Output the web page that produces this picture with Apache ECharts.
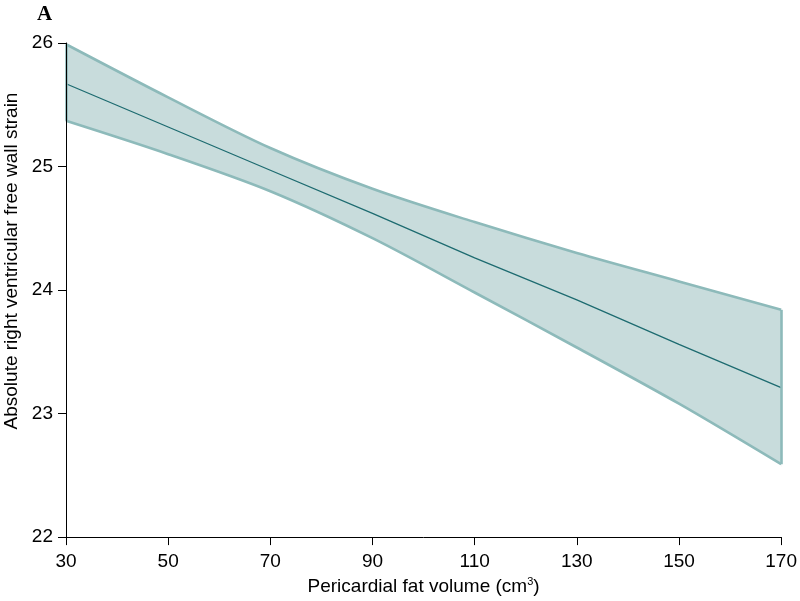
<!DOCTYPE html>
<html>
<head>
<meta charset="utf-8">
<script src="https://cdn.jsdelivr.net/npm/echarts@6/dist/echarts.min.js"></script>
<style>html,body{margin:0;padding:0;background:#fff}#c{width:800px;height:601px}</style>
</head>
<body>
<div id="c"></div>
<script>
const volumes = [30, 50, 70, 90, 110, 130, 150, 170];
const fitted  = [25.67, 25.32, 24.97, 24.62, 24.26, 23.92, 23.56, 23.21];
const upperCI = [25.99, 25.56, 25.15, 24.82, 24.55, 24.30, 24.07, 23.84];
const lowerCI = [25.37, 25.10, 24.80, 24.42, 23.98, 23.535, 23.08, 22.59];
const xTicks = [30, 50, 70, 90, 110, 130, 150, 170];
const yTicks = [22, 23, 24, 25, 26];

const fillColor = '#c8dcdc';
const edgeColor = '#8dbaba';
const lineColor = '#1d6b70';

const chart = echarts.init(document.getElementById('c'), null, {renderer: 'canvas'});
const font = 'Liberation Sans, Arial, sans-serif';
const last = volumes.length - 1;

chart.setOption({
  animation: false,
  backgroundColor: '#fff',
  grid: {left: 66, right: 17, top: 43, bottom: 56, containLabel: false},
  xAxis: {
    type: 'value', min: xTicks[0], max: xTicks[xTicks.length - 1], interval: 20, z: 10,
    name: 'Pericardial fat volume (cm{sup|3})',
    nameLocation: 'middle', nameGap: 36,
    nameTextStyle: {color: '#000', fontFamily: font, fontSize: 19,
      rich: {sup: {fontSize: 11, fontFamily: font, color: '#000', verticalAlign: 'top', padding: [0, 0, 10, 0]}}},
    axisLine: {show: true, lineStyle: {color: '#000', width: 1}},
    axisTick: {show: true, length: 8, lineStyle: {color: '#000', width: 1}},
    axisLabel: {color: '#000', fontFamily: font, fontSize: 19, margin: 15},
    splitLine: {show: false}
  },
  yAxis: {
    type: 'value', min: yTicks[0], max: yTicks[yTicks.length - 1], interval: 1, z: 10,
    axisLine: {show: true, lineStyle: {color: '#000', width: 1}},
    axisTick: {show: true, length: 8, lineStyle: {color: '#000', width: 1}},
    axisLabel: {color: '#000', fontFamily: font, fontSize: 19, margin: 13},
    splitLine: {show: false}
  },
  graphic: [
    {type: 'text', left: 37, top: 4, style: {text: 'A', fontFamily: 'Liberation Serif, Times New Roman, serif', fontWeight: 'bold', fontSize: 21, fill: '#000'}},
    {type: 'text', x: 12, y: 261, rotation: Math.PI / 2,
      style: {text: 'Absolute right ventricular free wall strain', fontFamily: font, fontSize: 19, fill: '#000', align: 'center', verticalAlign: 'middle'}}
  ],
  series: [
    {
      type: 'line', name: 'upper', smooth: 0.3, symbol: 'none', z: 2,
      data: volumes.map((v, i) => [v, upperCI[i]]),
      lineStyle: {color: edgeColor, width: 2.6},
      areaStyle: {color: fillColor, opacity: 1, origin: 'start'},
      markLine: {
        silent: true, symbol: 'none', animation: false,
        lineStyle: {color: edgeColor, width: 2.6, type: 'solid'},
        label: {show: false},
        data: [
          [{coord: [volumes[0], lowerCI[0]]}, {coord: [volumes[0], upperCI[0]]}],
          [{coord: [volumes[last], lowerCI[last]]}, {coord: [volumes[last], upperCI[last]]}]
        ]
      }
    },
    {
      type: 'line', name: 'lower', smooth: 0.3, symbol: 'none', z: 3,
      data: volumes.map((v, i) => [v, lowerCI[i]]),
      lineStyle: {color: edgeColor, width: 2.6},
      areaStyle: {color: '#ffffff', opacity: 1, origin: 'start'},
      markLine: {
        silent: true, symbol: 'none', animation: false,
        lineStyle: {color: '#ffffff', width: 3, type: 'solid'},
        label: {show: false},
        data: [
          [{coord: [volumes[last], yTicks[0]]}, {coord: [volumes[last], lowerCI[last] - 0.02]}]
        ]
      }
    },
    {
      type: 'line', name: 'fit', smooth: false, symbol: 'none', z: 4,
      data: volumes.map((v, i) => [v, fitted[i]]),
      lineStyle: {color: lineColor, width: 1.3}
    }
  ]
});
</script>
</body>
</html>
